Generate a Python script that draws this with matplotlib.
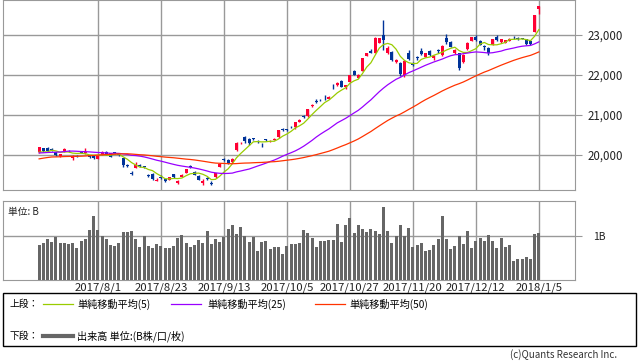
import numpy as np
import pandas as pd
import matplotlib
matplotlib.use('Agg')
import matplotlib.pyplot as plt
from matplotlib.lines import Line2D
from matplotlib.patches import Rectangle
from matplotlib.ticker import FuncFormatter

plt.rcParams['font.family'] = ['Noto Sans CJK JP', 'DejaVu Sans']

# trading days shown
month_days = [
    ('2017/7', [11, 12, 13, 14, 18, 19, 20, 21, 24, 25, 26, 27, 28, 31]),
    ('2017/8', [1, 2, 3, 4, 7, 8, 9, 10, 14, 15, 16, 17, 18, 21, 22, 23, 24, 25, 28, 29, 30, 31]),
    ('2017/9', [1, 4, 5, 6, 7, 8, 11, 12, 13, 14, 15, 19, 20, 21, 22, 25, 26, 27, 28, 29]),
    ('2017/10', [2, 3, 4, 5, 6, 10, 11, 12, 13, 16, 17, 18, 19, 20, 23, 24, 25, 26, 27, 30, 31]),
    ('2017/11', [1, 2, 6, 7, 8, 9, 10, 13, 14, 15, 16, 17, 20, 21, 22, 24, 27, 28, 29, 30]),
    ('2017/12', [1, 4, 5, 6, 7, 8, 11, 12, 13, 14, 15, 18, 19, 20, 21, 22, 25, 26, 27, 28, 29]),
    ('2018/1', [4, 5]),
]
dates = [m + '/' + str(d) for m, ds in month_days for d in ds]

tick_dates = ['2017/8/1', '2017/8/23', '2017/9/13', '2017/10/5', '2017/10/27',
              '2017/11/20', '2017/12/12', '2018/1/5']

# closes before the first shown day (for the moving averages)
prior_close = [19197, 19310, 19445, 19895, 19843, 19900, 19961, 19883, 19869, 19919,
               19814, 19553, 19590, 19678, 19613, 19742, 19813, 19686, 19682, 19677,
               19650, 19860, 20177, 20170, 19979, 19984, 19909, 20013, 19908, 19898,
               19883, 19831, 19943, 20067, 20230, 20138, 20110, 20132, 20153, 20225,
               20130, 20220, 20033, 20055, 20032, 20081, 20081, 19929, 20080]

opens = [20070, 20170, 20180, 20150, 20070, 19975, 20090, 20110, 19930, 19970,
         20090, 20050, 19990, 19980, 19910, 20000, 20070, 20040, 20070, 20040,
         19920, 19760, 19560, 19680, 19750, 19710, 19500, 19530, 19360, 19440,
         19390, 19380, 19520, 19300, 19460, 19560, 19720, 19580, 19480, 19300,
         19430, 19310, 19440, 19700, 19890, 19880, 19820, 20120, 20300, 20450,
         20400, 20420, 20350, 20280, 20390, 20340, 20380, 20440, 20660, 20650,
         20700, 20710, 20830, 20960, 20970, 21220, 21340, 21380, 21460, 21400,
         21710, 21740, 21860, 21690, 21830, 22100, 21930, 22110, 22480, 22610,
         22560, 22800, 23000, 22550, 22580, 22330, 22300, 22000, 22540, 22280,
         22440, 22600, 22460, 22600, 22420, 22620, 22510, 22930, 22820, 22560,
         22540, 22330, 22640, 22850, 22950, 22860, 22720, 22680, 22750, 22960,
         22830, 22800, 22860, 22950, 22920, 22920, 22900, 22860, 23073, 23643]
highs = [20210, 20180, 20190, 20165, 20080, 20030, 20180, 20130, 20000, 19990,
         20110, 20170, 20000, 19990, 20000, 20100, 20090, 20060, 20080, 20060,
         19930, 19780, 19600, 19820, 19770, 19730, 19530, 19540, 19420, 19500,
         19400, 19460, 19530, 19380, 19520, 19660, 19740, 19600, 19500, 19390,
         19440, 19340, 19560, 19790, 19920, 19900, 19930, 20330, 20330, 20480,
         20420, 20430, 20380, 20300, 20400, 20380, 20420, 20630, 20680, 20660,
         20720, 20830, 20890, 20990, 21160, 21270, 21400, 21390, 21500, 21470,
         21780, 21830, 21880, 21750, 22010, 22120, 22020, 22430, 22550, 22650,
         22940, 22930, 23382, 22720, 22600, 22400, 22320, 22380, 22620, 22320,
         22470, 22680, 22560, 22630, 22500, 22660, 22740, 23020, 22840, 22640,
         22560, 22520, 22830, 22950, 23010, 22880, 22760, 22700, 22910, 22990,
         22900, 22880, 22920, 22970, 22940, 22930, 22910, 22870, 23506, 23730]
lows = [20060, 20080, 20090, 20100, 19970, 19960, 20080, 20070, 19880, 19940,
        20040, 20030, 19930, 19910, 19900, 19990, 20010, 19950, 20020, 19970,
        19710, 19700, 19500, 19670, 19700, 19680, 19440, 19380, 19340, 19390,
        19330, 19370, 19430, 19280, 19450, 19540, 19670, 19500, 19380, 19250,
        19380, 19240, 19430, 19690, 19840, 19780, 19800, 20110, 20280, 20300,
        20250, 20380, 20300, 20210, 20340, 20330, 20370, 20430, 20610, 20600,
        20670, 20650, 20820, 20920, 20960, 21210, 21290, 21340, 21380, 21390,
        21640, 21720, 21690, 21650, 21820, 21990, 21920, 22100, 22470, 22540,
        22550, 22790, 22630, 22530, 22340, 22290, 21970, 21960, 22380, 22230,
        22380, 22500, 22440, 22480, 22380, 22560, 22480, 22780, 22700, 22530,
        22120, 22300, 22620, 22840, 22850, 22740, 22620, 22500, 22740, 22850,
        22800, 22790, 22840, 22910, 22870, 22890, 22760, 22750, 23065, 23520]
closes = [20195, 20098, 20099, 20118, 19999, 20020, 20144, 20099, 19975, 19955,
          20050, 20079, 19959, 19925, 19985, 20080, 20029, 19952, 20055, 19996,
          19738, 19729, 19537, 19753, 19729, 19702, 19470, 19393, 19383, 19434,
          19353, 19452, 19449, 19362, 19506, 19646, 19691, 19508, 19385, 19357,
          19396, 19274, 19545, 19776, 19865, 19807, 19909, 20299, 20310, 20347,
          20296, 20397, 20330, 20267, 20363, 20356, 20400, 20614, 20626, 20628,
          20690, 20823, 20881, 20954, 21155, 21255, 21336, 21363, 21448, 21457,
          21696, 21805, 21707, 21739, 22008, 22011, 22011, 22420, 22539, 22548,
          22937, 22914, 22869, 22681, 22381, 22380, 22028, 22351, 22397, 22261,
          22416, 22523, 22550, 22495, 22486, 22597, 22725, 22819, 22707, 22622,
          22177, 22498, 22811, 22938, 22866, 22758, 22694, 22553, 22901, 22868,
          22891, 22866, 22902, 22939, 22892, 22911, 22783, 22764, 23506, 23714]

# volume, billions of shares
volume = [0.80, 0.84, 0.94, 0.87, 0.98, 0.85, 0.85, 0.82, 0.85, 0.73, 0.89, 0.94, 1.15, 1.47,
          1.15, 1.01, 0.94, 0.80, 0.78, 0.85, 1.10, 1.10, 1.12, 0.94,
          0.76, 1.01, 0.78, 0.73, 0.82, 0.78, 0.73, 0.73, 0.78, 0.96,
          1.03, 0.85, 0.76, 0.80, 0.92, 0.85, 1.12, 0.82, 0.94, 0.87,
          0.98, 1.17, 1.26, 1.05, 1.21, 1.01, 0.87, 0.98, 0.66, 0.87,
          0.89, 0.71, 0.76, 0.76, 0.60, 0.78, 0.82, 0.82, 0.85, 1.15,
          1.08, 0.96, 0.76, 0.89, 0.89, 0.92, 0.92, 1.28, 0.87, 1.26,
          1.42, 1.08, 1.26, 1.17, 1.10, 1.17, 1.12, 1.05, 1.67,
          1.12, 0.85, 1.01, 1.26, 1.01, 1.19, 0.76, 0.80, 0.85, 0.66, 0.69, 0.80, 0.94,
          1.47,
          0.94, 0.71, 0.78, 1.01, 0.82, 1.12, 0.73, 0.89, 0.96, 0.89, 1.03, 0.89, 0.73, 0.96, 0.76, 0.80,
          0.44, 0.48, 0.48, 0.53, 0.48, 1.05, 1.08]

n = len(dates)
x = np.arange(n)
o = np.array(opens, float)
h = np.array(highs, float)
l = np.array(lows, float)
c = np.array(closes, float)

all_close = pd.Series(prior_close + closes, dtype=float)
ma5 = all_close.rolling(5).mean().values[-n:]
ma25 = all_close.rolling(25).mean().values[-n:]
ma50 = all_close.rolling(50).mean().values[-n:]

W, H = 638, 362
fig = plt.figure(figsize=(W / 100, H / 100), dpi=100)
ax = fig.add_axes([3 / W, 1 - 190 / H, 572 / W, 190 / H])
axv = fig.add_axes([3 / W, 1 - 280 / H, 572 / W, 79 / H])

grid_c = '#999999'
tick_idx = [dates.index(d) for d in tick_dates]

# upper panel
ax.set_xlim(-8.6, 127.6)
ax.set_ylim(19125, 23875)
ax.set_xticks(tick_idx)
ax.set_yticks([20000, 21000, 22000, 23000])
ax.grid(True, color=grid_c, lw=1)
ax.set_axisbelow(True)
ax.yaxis.tick_right()
ax.tick_params(axis='y', length=5, color=grid_c, labelsize=8.3, pad=4, labelcolor='#222222')
ax.tick_params(axis='x', length=0, labelbottom=False)
ax.yaxis.set_major_formatter(FuncFormatter(lambda v, p: '{:,.0f}'.format(v)))
for s in ax.spines.values():
    s.set_color(grid_c)

cols = np.where(c >= o, '#ff0033', '#003399')
ax.vlines(x, l, h, colors=cols, lw=1, zorder=3)
ax.bar(x, np.maximum(np.abs(c - o), 12), bottom=np.minimum(o, c), width=0.72,
       color=cols, lw=0, zorder=3)
ax.plot(x, ma5, color='#99cc00', lw=0.9, zorder=4)
ax.plot(x, ma25, color='#9900ff', lw=0.9, zorder=4)
ax.plot(x, ma50, color='#ff3300', lw=0.9, zorder=4)

# volume panel
axv.set_xlim(-8.6, 127.6)
axv.set_ylim(0, 1.81)
axv.set_xticks(tick_idx)
axv.set_xticklabels(tick_dates)
axv.set_yticks([1])
axv.set_yticklabels(['1B'])
axv.grid(True, color=grid_c, lw=1)
axv.set_axisbelow(True)
axv.yaxis.tick_right()
axv.tick_params(axis='y', length=5, color=grid_c, labelsize=7.5, pad=8, labelcolor='#222222')
axv.tick_params(axis='x', length=0, labelsize=8.2, pad=2, labelcolor='#222222')
for s in axv.spines.values():
    s.set_color(grid_c)
axv.bar(x, volume, width=0.72, color='#666666', lw=0, zorder=3)
axv.text(0.008, 0.93, '単位: B', transform=axv.transAxes, fontsize=7,
         va='top', ha='left', color='#222222')

# legend box
def fx(px):
    return px / W

def fy(py):
    return 1 - py / H

fig.patches.append(Rectangle((fx(3), fy(346)), fx(633), 53 / H, transform=fig.transFigure,
                             fill=False, ec='black', lw=1))
ly1, ly2 = 304, 336
fig.text(fx(10), fy(ly1), '上段：', fontsize=7, va='center', ha='left')
fig.text(fx(10), fy(ly2), '下段：', fontsize=7, va='center', ha='left')
legend_items = [(43, 73, 77, '#99cc00', '単純移動平均(5)'),
                (171, 201, 207, '#9900ff', '単純移動平均(25)'),
                (315, 345, 349, '#ff3300', '単純移動平均(50)')]
for x0, x1, tx, col, lab in legend_items:
    fig.lines.append(Line2D([fx(x0), fx(x1)], [fy(ly1), fy(ly1)], color=col, lw=0.9,
                            transform=fig.transFigure))
    fig.text(fx(tx), fy(ly1), lab, fontsize=7.3, va='center', ha='left')
fig.lines.append(Line2D([fx(43), fx(73)], [fy(ly2), fy(ly2)], color='#666666', lw=3,
                        transform=fig.transFigure))
fig.text(fx(77), fy(ly2), '出来高 単位:(B株/口/枚)', fontsize=7.3, va='center', ha='left')

fig.text(fx(617), fy(355), '(c)Quants Research Inc.', fontsize=7, va='center', ha='right',
         color='#333333')

fig.savefig('out.png', dpi=100)
